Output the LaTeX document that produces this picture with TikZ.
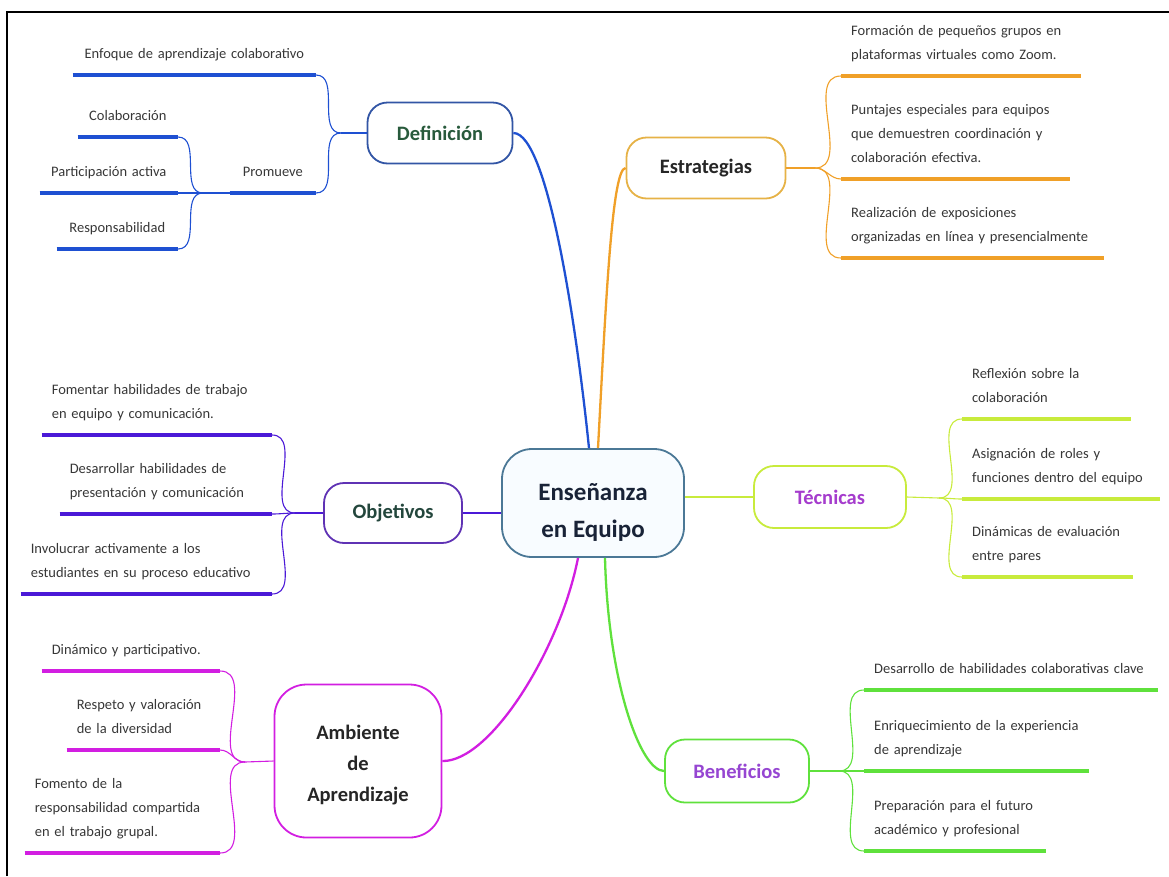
\documentclass[tikz,border=0pt]{standalone}
\usepackage{fontspec}
\setmainfont{Carlito}
\usepackage{tikz}

\definecolor{defblue}{RGB}{30,80,210}
\definecolor{defborder}{RGB}{50,85,165}
\definecolor{deftext}{RGB}{40,90,60}
\definecolor{estorange}{RGB}{240,160,40}
\definecolor{estborder}{RGB}{230,178,70}
\definecolor{objpurple}{RGB}{75,25,215}
\definecolor{objborder}{RGB}{95,50,180}
\definecolor{objtext}{RGB}{35,70,60}
\definecolor{teclime}{RGB}{200,235,60}
\definecolor{tectext}{RGB}{165,60,205}
\definecolor{bengreen}{RGB}{95,225,60}
\definecolor{bentext}{RGB}{150,70,210}
\definecolor{ambmag}{RGB}{210,30,225}
\definecolor{cenborder}{RGB}{75,120,150}
\definecolor{cenfill}{RGB}{248,252,255}
\definecolor{centext}{RGB}{25,35,55}
\definecolor{leafgray}{RGB}{55,55,55}

\tikzset{
    topic/.style={draw, fill=white, rounded corners=20pt, line width=1.8pt, inner sep=0pt,
        font=\bfseries\fontsize{20.5}{24}\selectfont},
    leaf/.style={inner xsep=10pt, inner ysep=13pt, text=leafgray,
        font=\fontsize{14.5}{24}\selectfont,
        execute at end node={\vrule width 0pt depth 3pt}},
    uline/.style={line width=4pt},
    twig/.style={line width=1.1pt},
    trunk/.style={line width=2.3pt},
}

\begin{document}
\begin{tikzpicture}[x=1pt,y=-1pt]
            \useasboundingbox (0,0) rectangle (1169,876);
            \draw[line width=1.3pt] (7,876) -- (7,12) -- (1169,12);

            % centre
            \node[topic, draw=cenborder, fill=cenfill, text=centext, rounded corners=30pt,
                minimum width=182pt, minimum height=108pt, align=center,
                font=\bfseries\fontsize{25}{37}\selectfont] (ens) at (593,503) {\rule{0pt}{35pt}Enseñanza\\en Equipo};

            % Definicion
            \node[topic, draw=defborder, text=deftext, minimum width=145pt, minimum height=61pt] (def) at (440,133) {Definición};
            \coordinate (jd) at (341,133);
            \node[leaf, anchor=south east, text width=223pt, align=center] (d1) at (316,75) {Enfoque de aprendizaje colaborativo};
            \node[leaf, anchor=south east, text width=66pt, align=center] (prom) at (316,193) {Promueve};
            \coordinate (jp) at (203,193);
            \node[leaf, anchor=south east, text width=80pt, align=center] (d2) at (178,137) {Colaboración};
            \node[leaf, anchor=south east, text width=118pt, align=center] (d3) at (178,193) {Participación activa};
            \node[leaf, anchor=south east, text width=101pt, align=center] (d4) at (178,249) {Responsabilidad};

            % Estrategias
            \node[topic, draw=estborder, text=black!85, minimum width=159pt, minimum height=61pt] (est) at (706,168) {Estrategias};
            \coordinate (je) at (815,168);
            \node[leaf, anchor=south west, text width=220pt, align=left] (e1) at (841,76) {Formación de pequeños grupos en\\plataformas virtuales como Zoom.};
            \node[leaf, anchor=south west, text width=209pt, align=left] (e2) at (841,179) {Puntajes especiales para equipos\\que demuestren coordinación y\\colaboración efectiva.};
            \node[leaf, anchor=south west, text width=243pt, align=left] (e3) at (841,258) {Realización de exposiciones\\organizadas en línea y presencialmente};

            % Objetivos
            \node[topic, draw=objborder, text=objtext, minimum width=138pt, minimum height=60pt] (obj) at (393,513) {Objetivos};
            \coordinate (jo) at (295,513);
            \node[leaf, anchor=south east, text width=210pt, align=left] (o1) at (272,435) {Fomentar habilidades de trabajo\\en equipo y comunicación.};
            \node[leaf, anchor=south east, text width=192pt, align=left] (o2) at (272,514) {Desarrollar habilidades de\\presentación y comunicación};
            \node[leaf, anchor=south east, text width=231pt, align=left] (o3) at (272,594) {Involucrar activamente a los\\estudiantes en su proceso educativo};

            % Tecnicas
            \node[topic, draw=teclime, text=tectext, minimum width=152pt, minimum height=62pt] (tec) at (830,497) {Técnicas};
            \coordinate (jt) at (939,498);
            \node[leaf, anchor=south west, text width=149pt, align=left] (t1) at (962,419) {Reflexión sobre la\\colaboración};
            \node[leaf, anchor=south west, text width=178pt, align=left] (t2) at (962,499) {Asignación de roles y\\funciones dentro del equipo};
            \node[leaf, anchor=south west, text width=151pt, align=left] (t3) at (962,577) {Dinámicas de evaluación\\entre pares};

            % Beneficios
            \node[topic, draw=bengreen, text=bentext, minimum width=144pt, minimum height=63pt] (ben) at (737,771) {Beneficios};
            \coordinate (jb) at (839,771);
            \node[leaf, anchor=south west, text width=274pt, align=left] (b1) at (864,690) {Desarrollo de habilidades colaborativas clave};
            \node[leaf, anchor=south west, text width=205pt, align=left] (b2) at (864,771) {Enriquecimiento de la experiencia\\de aprendizaje};
            \node[leaf, anchor=south west, text width=162pt, align=left] (b3) at (864,851) {Preparación para el futuro\\académico y profesional};

            % Ambiente de Aprendizaje
            \node[topic, draw=ambmag, text=black!85, rounded corners=32pt, minimum width=167pt, minimum height=153pt,
                align=center, font=\bfseries\fontsize{20.5}{31}\selectfont] (amb) at (358,761) {\rule{0pt}{23pt}Ambiente\\de\\Aprendizaje};
            \coordinate (ja) at (245,762);
            \node[leaf, anchor=south east, text width=158pt, align=left] (a1) at (220,671) {Dinámico y participativo.};
            \node[leaf, anchor=south east, text width=133pt, align=left] (a2) at (220,750) {Respeto y valoración\\de la diversidad};
            \node[leaf, anchor=south east, text width=175pt, align=left] (a3) at (220,853) {Fomento de la\\responsabilidad compartida\\en el trabajo grupal.};

            % trunks
            \draw[trunk, defblue] ([xshift=-4pt]ens.north) .. controls (577,330) and (548,133) .. (def.east);
            \draw[trunk, estorange] ([xshift=5pt]ens.north) .. controls (606,300) and (612,168) .. (est.west);
            \draw[trunk, objpurple] (obj.east) -- (obj.east -| ens.west);
            \draw[trunk, teclime] (tec.west -| ens.east) -- (tec.west);
            \draw[trunk, ambmag] ([xshift=-15pt]ens.south) .. controls (560,650) and (490,762) .. (amb.east);
            \draw[trunk, bengreen] ([xshift=12pt]ens.south) .. controls (608,680) and (640,771) .. (ben.west);

            % twigs
            \draw[twig, defblue] (def.west) -- (jd);
            \draw[twig, defblue] (jd) to[out=180,in=0] (d1.south east);
            \draw[twig, defblue] (jd) to[out=180,in=0] (prom.south east);
            \draw[twig, defblue] (prom.south west) -- (jp);
            \foreach \n in {d2,d3,d4}
                \draw[twig, defblue] (jp) to[out=180,in=0] (\n.south east);

            \draw[twig, estorange] (est.east) -- (je);
            \foreach \n in {e1,e2,e3}
                \draw[twig, estorange] (je) to[out=0,in=180] (\n.south west);

            \draw[twig, objpurple] (obj.west) -- (jo);
            \foreach \n in {o1,o2,o3}
                \draw[twig, objpurple] (jo) to[out=180,in=0] (\n.south east);

            \draw[twig, teclime] (tec.east) -- (jt);
            \foreach \n in {t1,t2,t3}
                \draw[twig, teclime] (jt) to[out=0,in=180] (\n.south west);

            \draw[twig, bengreen] (ben.east) -- (jb);
            \foreach \n in {b1,b2,b3}
                \draw[twig, bengreen] (jb) to[out=0,in=180] (\n.south west);

            \draw[twig, ambmag] (amb.west) -- (ja);
            \foreach \n in {a1,a2,a3}
                \draw[twig, ambmag] (ja) to[out=180,in=0] (\n.south east);

            % underlines
            \foreach \n in {d1,d2,d3,d4,prom}
                \draw[uline, defblue] (\n.south west) -- (\n.south east);
            \foreach \n in {e1,e2,e3}
                \draw[uline, estorange] (\n.south west) -- (\n.south east);
            \foreach \n in {o1,o2,o3}
                \draw[uline, objpurple] (\n.south west) -- (\n.south east);
            \foreach \n in {t1,t2,t3}
                \draw[uline, teclime] (\n.south west) -- (\n.south east);
            \foreach \n in {b1,b2,b3}
                \draw[uline, bengreen] (\n.south west) -- (\n.south east);
            \foreach \n in {a1,a2,a3}
                \draw[uline, ambmag] (\n.south west) -- (\n.south east);
        \end{tikzpicture}
\end{document}
